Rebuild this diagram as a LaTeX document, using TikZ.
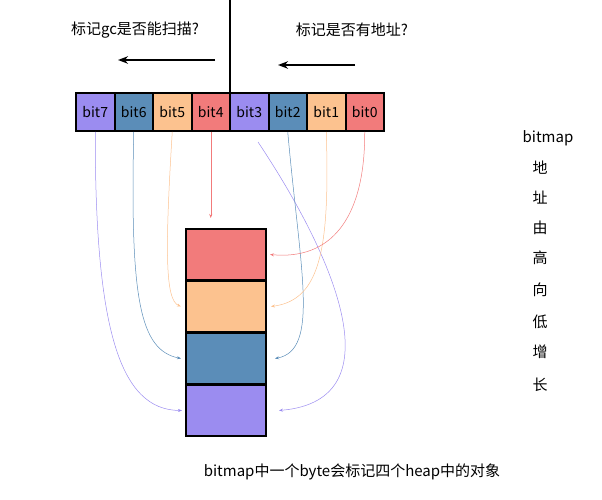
\documentclass[tikz,border=0pt]{standalone}
\usepackage{fontspec}
\setmainfont{Noto Sans CJK SC}
\usetikzlibrary{arrows.meta}
\definecolor{cp}{HTML}{9B8CF0}
\definecolor{cb}{HTML}{5B8DB8}
\definecolor{co}{HTML}{FCC28F}
\definecolor{cr}{HTML}{F27B7B}
\begin{document}
\begin{tikzpicture}[x=1pt,y=-1pt,font=\fontsize{15}{18}\selectfont,
  bit/.style={draw=black,line width=2pt,minimum width=38.5pt,minimum height=38pt,inner sep=0pt,anchor=north west,font=\fontsize{14}{16}\selectfont},
  blk/.style={draw=black,line width=2pt,minimum width=80pt,minimum height=51pt,inner sep=0pt,anchor=north west},
  con/.style={line width=0.5pt,-{Stealth[length=4pt]}}]
\useasboundingbox (0,0) rectangle (602,500);
\draw[line width=2pt] (230,0) -- (230,92);
\foreach \n/\c/\i in {7/cp/0,6/cb/1,5/co/2,4/cr/3,3/cp/4,2/cb/5,1/co/6,0/cr/7}
  \node[bit,fill=\c] (b\n) at (75+38.5*\i,92) {bit\n};
\node[blk,fill=cr] (m0) at (185,228) {};
\node[blk,fill=co] (m1) at (185,280) {};
\node[blk,fill=cb] (m2) at (185,332) {};
\node[blk,fill=cp] (m3) at (185,384) {};
\coordinate (a1s) at (215,60); \coordinate (a1e) at (118,60);
\coordinate (a2s) at (355,65); \coordinate (a2e) at (278,65);
\draw[line width=2.5pt,-{Stealth[length=10pt]}] (a1s) -- (a1e);
\draw[line width=2.5pt,-{Stealth[length=10pt]}] (a2s) -- (a2e);
\node (t1) at (135,30) {标记gc是否能扫描?};
\node (t2) at (352,30) {标记是否有地址?};
\coordinate (b4e) at (b4.south |- 218,218);
\draw[con,cp] (b7.south) .. controls (95,330) and (120,410) .. ([xshift=-3pt]m3.west);
\draw[con,cb] (b6.south) .. controls (130,300) and (140,350) .. ([xshift=-4pt]m2.west);
\draw[con,co] (b5.south) .. controls (165,250) and (165,300) .. ([xshift=-4pt]m1.west);
\draw[con,cr] (b4.south) -- (b4e);
\draw[con,cp] (258,142) .. controls (330,250) and (400,400) .. ([xshift=12pt]m3.east);
\draw[con,cb] (b2.south) .. controls (300,270) and (320,350) .. ([xshift=8pt]m2.east);
\draw[con,co] (b1.south) .. controls (330,250) and (320,300) .. ([xshift=4pt]m1.east);
\draw[con,cr] (b0.south) .. controls (365,220) and (330,260) .. ([xshift=3pt]m0.east);
\node (r0) at (548,138) {bitmap};
\foreach \t/\y [count=\k] in {地/168,址/198,由/228,高/258,向/290,低/322,增/352,长/385}
  \node (r\k) at (540,\y) {\t};
\node (cap) at (352,472) {bitmap中一个byte会标记四个heap中的对象};
\end{tikzpicture}
\end{document}
